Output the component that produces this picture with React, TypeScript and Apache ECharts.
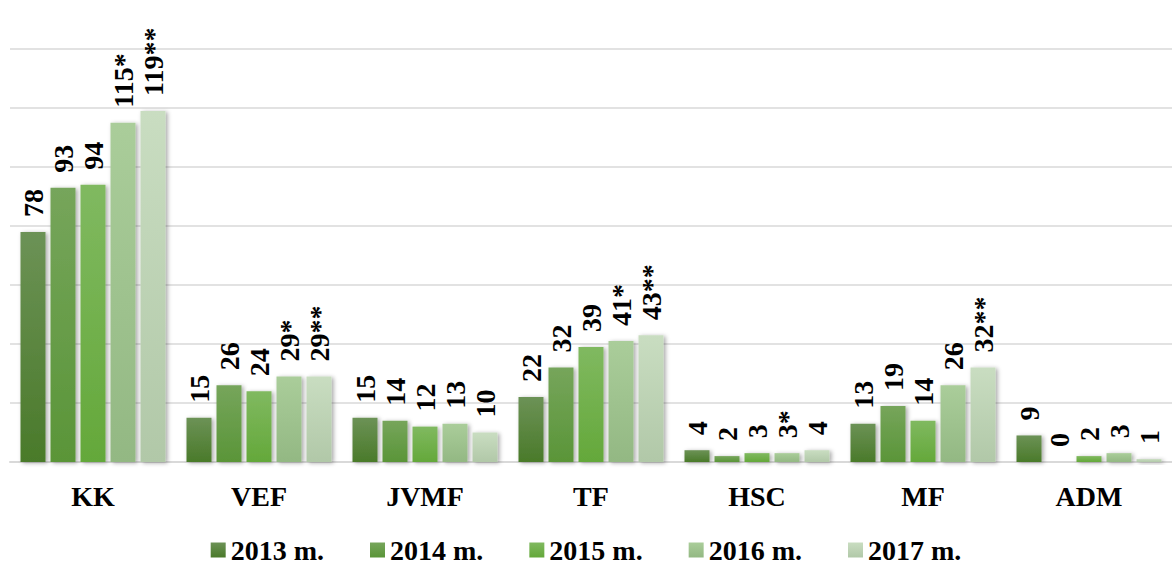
import React, { useEffect, useRef } from "react";
import * as echarts from "echarts";

const categories = ["KK", "VEF", "JVMF", "TF", "HSC", "MF", "ADM"];
const seriesNames = ["2013 m.", "2014 m.", "2015 m.", "2016 m.", "2017 m."];
const values2013 = [78, 15, 15, 22, 4, 13, 9];
const values2014 = [93, 26, 14, 32, 2, 19, 0];
const values2015 = [94, 24, 12, 39, 3, 14, 2];
const values2016 = [115, 29, 13, 41, 3, 26, 3];
const values2017 = [119, 29, 10, 43, 4, 32, 1];
const notes2013 = ["", "", "", "", "", "", ""];
const notes2014 = ["", "", "", "", "", "", ""];
const notes2015 = ["", "", "", "", "", "", ""];
const notes2016 = ["*", "*", "", "*", "*", "", ""];
const notes2017 = ["**", "**", "", "**", "", "**", ""];

const allValues = [values2013, values2014, values2015, values2016, values2017];
const allNotes = [notes2013, notes2014, notes2015, notes2016, notes2017];
const gradients = [
  ["#6c9256", "#4a7a2a"],
  ["#76a55b", "#5a9538"],
  ["#80b960", "#64a83a"],
  ["#aacd9a", "#93b883"],
  ["#c9ddc1", "#b1c8a8"],
];

const FONT = "'Liberation Serif', 'Times New Roman', serif";

export default function App() {
  const ref = useRef<HTMLDivElement>(null);
  useEffect(() => {
    document.body.style.margin = "0";
    const chart = echarts.init(ref.current!, null, { renderer: "svg" });
    const series = allValues.map((vals, si) => ({
      name: seriesNames[si],
      type: "bar",
      data: vals,
      barWidth: 25,
      barGap: "20%",
      itemStyle: {
        color: new echarts.graphic.LinearGradient(0, 0, 0, 1, [
          { offset: 0, color: gradients[si][0] },
          { offset: 1, color: gradients[si][1] },
        ]),
        shadowColor: "rgba(0,0,0,0.35)",
        shadowBlur: 4,
        shadowOffsetX: 2,
        shadowOffsetY: 1,
      },
      label: {
        show: true,
        position: "top",
        rotate: 90,
        align: "left",
        verticalAlign: "middle",
        distance: 15,
        fontSize: 28,
        fontWeight: "bold",
        fontFamily: FONT,
        color: "#000",
        formatter: (p: any) => `${p.value}${allNotes[si][p.dataIndex]}`,
      },
    }));
    chart.setOption({
      animation: false,
      textStyle: { fontFamily: FONT },
      grid: { left: 10, right: 0, top: 49, bottom: 103 },
      legend: {
        data: seriesNames,
        top: 536,
        left: "center",
        padding: 0,
        itemWidth: 15,
        itemHeight: 15,
        itemGap: 46,
        icon: "rect",
        textStyle: {
          fontSize: 28,
          lineHeight: 28,
          fontWeight: "bold",
          fontFamily: FONT,
          color: "#000",
        },
      },
      xAxis: {
        type: "category",
        data: categories,
        axisTick: { show: false },
        axisLine: { lineStyle: { color: "#d9d9d9", width: 2 } },
        axisLabel: {
          margin: 20,
          fontSize: 28,
          fontWeight: "bold",
          fontFamily: FONT,
          color: "#000",
        },
      },
      yAxis: {
        type: "value",
        min: 0,
        max: 140,
        interval: 20,
        axisLabel: { show: false },
        axisLine: { show: false },
        axisTick: { show: false },
        splitLine: { lineStyle: { color: "#d9d9d9", width: 1.5 } },
      },
      series,
    });
    return () => chart.dispose();
  }, []);
  return <div ref={ref} style={{ width: 1172, height: 565 }} />;
}
